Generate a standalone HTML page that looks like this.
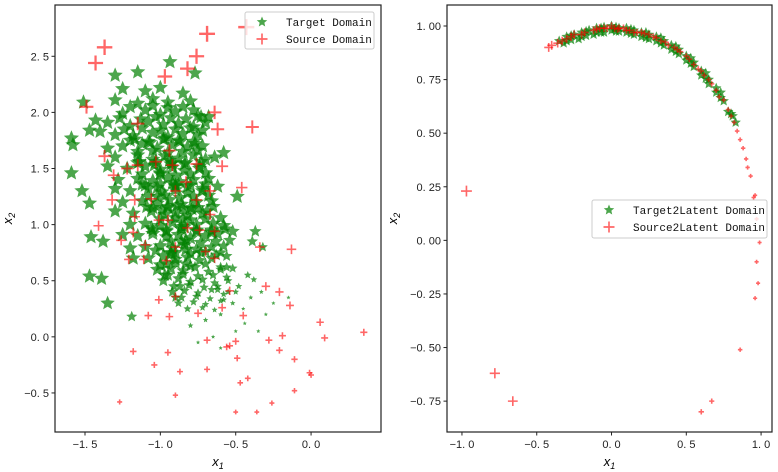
<!DOCTYPE html>
<html><head><meta charset="utf-8"><style>
html,body{margin:0;padding:0;background:#fff;}
svg{display:block;font-family:"Liberation Sans",sans-serif;}
.tick{font-size:11px;fill:#222;}
.leg{font-family:"Liberation Mono",monospace;font-size:11px;fill:#111;}
</style></head><body>
<svg id="chart" width="778" height="472" viewBox="0 0 778 472" xmlns="http://www.w3.org/2000/svg">
<g id="left"></g>
<g id="right"></g>
</svg>
<script>
// ---- left panel data ----
const targetX = [-1.25,-1.1,-1.0,-0.85,-0.936,-1.30,-1.15,-0.77,-1.51,-1.59,-1.58,-1.59,-1.43,-1.47,-0.78,-0.68,-0.58,-0.64,-0.49,-1.52,-1.47,-1.46,-1.38,-1.47,-1.39,-1.35,-0.37,-0.39,-0.52,-1.19,-0.38,-0.32,
 -1.3,-1.15,-1.05,-0.95,-0.8, -1.25,-1.1,-1.0,-0.9,-0.75, -1.35,-1.2,-1.08,-0.98,-0.88,-0.78,-0.7, -1.3,-1.18,-1.05,-0.95,-0.85,-0.75,-1.4,
 -1.25,-1.12,-1.02,-0.92,-0.82,-0.72,-1.35, -1.3,-1.15,-1.05,-0.97,-0.88,-0.78,-0.7, -1.22,-1.1,-1.0,-0.92,-0.84,-0.74,-1.35,
 -1.28,-1.15,-1.05,-0.95,-0.87,-0.78,-0.68, -1.2,-1.08,-0.99,-0.9,-0.82,-0.72,-1.3, -1.25,-1.12,-1.02,-0.94,-0.86,-0.76,-0.66,
 -1.18,-1.06,-0.97,-0.9,-0.82,-0.72,-1.3, -1.2,-1.1,-1.0,-0.92,-0.84,-0.76,-0.65,-0.58, -1.15,-1.05,-0.96,-0.88,-0.8,-0.7,-0.62,-1.25,
 -1.1,-1.0,-0.92,-0.84,-0.76,-0.66,-0.58,-1.2, -1.08,-0.98,-0.9,-0.82,-0.74,-0.66,-0.56,-1.18, -1.02,-0.93,-0.85,-0.77,-0.68,-0.6,-0.52,
 -0.98,-0.88,-0.8,-0.72,-0.64,-0.55, -0.92,-0.84,-0.75,-0.66,-0.58,-0.5, -0.88,-0.78,-0.7,-0.6,
 -1.0,-0.9,-0.95,-0.85,-1.05,-0.93,-0.83,-0.97,-0.87,-1.02,-0.92,-0.8,-0.9,-0.96,-0.86,
 -1.2,-1.05,-0.95,-0.85, -1.27,-1.13,-1.03,-0.93,-0.83,-0.73, -1.24,-1.12,-1.0,-0.9,-0.8,-0.72, -1.2,-1.08,-0.98,-0.88,-0.78, -1.15,-1.05,-0.95,-0.85,-0.75,
 -1.15,-1.03,-0.93,-0.83,-0.73, -1.12,-1.0,-0.9,-0.8,-0.7, -1.1,-1.0,-0.9,-0.8,-0.7,-0.62, -1.08,-0.97,-0.87,-0.78,-0.68, -1.05,-0.95,-0.85,-0.75,-0.65,
 -1.0,-0.9,-0.8,-0.7,-0.6, -0.96,-0.86,-0.76,-0.66,-0.57, -0.93,-0.83,-0.73,-0.63,-0.54, -0.9,-0.8,-0.7,-0.6,
 -1.17,-1.07,-0.97,-0.87,-0.77, -1.14,-1.04,-0.94,-0.84,-0.74, -1.12,-1.02,-0.92,-0.82,-0.72, -1.09,-0.99,-0.89,-0.79,-0.69, -1.06,-0.96,-0.86,-0.76,-0.66,
 -1.03,-0.93,-0.83,-0.73,-0.63, -1.0,-0.9,-0.8,-0.7,-0.6, -0.95,-0.85,-0.75,-0.65,-0.56, -0.91,-0.81,-0.71,-0.62, -0.86,-0.76,-0.67,-0.58, -0.82,-0.72,-0.64,
 -0.55,-0.45,-0.6,-0.7,-0.8,-0.5,-0.65,-0.4,-0.33,-0.75,-0.6,-0.25,-0.3,-0.15,-0.44,-0.52,-0.35,-0.48,-0.42,-0.62,-0.56];
const targetY = [2.21,2.19,2.22,2.17,2.45,2.33,2.36,2.35,2.09,1.77,1.71,1.46,1.93,1.84,2.02,1.96,1.64,1.60,1.25,1.30,1.19,0.89,0.85,0.54,0.52,0.30,0.94,0.85,0.94,0.18,0.51,0.80,
 2.11,2.08,2.12,2.09,2.10, 1.99,2.02,1.98,2.01,1.97, 1.91,1.88,1.92,1.89,1.90,1.87,1.91, 1.80,1.79,1.82,1.78,1.81,1.80,1.83,
 1.70,1.72,1.68,1.71,1.69,1.70,1.68, 1.60,1.62,1.58,1.61,1.59,1.62,1.58, 1.50,1.52,1.49,1.51,1.48,1.50,1.52,
 1.40,1.41,1.39,1.42,1.38,1.40,1.41, 1.30,1.32,1.29,1.31,1.28,1.30,1.32, 1.20,1.21,1.19,1.22,1.18,1.20,1.21,
 1.10,1.12,1.09,1.11,1.08,1.10,1.12, 1.00,1.01,0.99,1.02,0.98,1.00,1.01,0.99, 0.90,0.92,0.89,0.91,0.88,0.90,0.92,0.91,
 0.80,0.81,0.79,0.82,0.78,0.80,0.81,0.79, 0.70,0.72,0.69,0.71,0.68,0.70,0.72,0.70, 0.60,0.61,0.59,0.62,0.58,0.60,0.61,
 0.50,0.52,0.49,0.51,0.48,0.50, 0.40,0.41,0.39,0.42,0.38,0.40, 0.30,0.31,0.29,0.32,
 1.45,1.35,1.15,1.05,0.95,0.75,0.65,0.55,0.45,1.25,1.55,1.15,0.35,0.65,0.85,
 2.05,2.06,2.04,2.05, 1.95,1.94,1.96,1.95,1.94,1.96, 1.85,1.86,1.84,1.85,1.86,1.84, 1.75,1.74,1.76,1.75,1.74, 1.65,1.66,1.64,1.65,1.66,
 1.55,1.56,1.54,1.55,1.56, 1.45,1.46,1.44,1.45,1.46, 1.35,1.36,1.34,1.35,1.36,1.34, 1.25,1.26,1.24,1.25,1.26, 1.15,1.16,1.14,1.15,1.16,
 1.05,1.06,1.04,1.05,1.06, 0.95,0.96,0.94,0.95,0.96, 0.85,0.86,0.84,0.85,0.86, 0.75,0.74,0.76,0.75,
 1.76,1.73,1.77,1.74,1.72, 1.56,1.53,1.57,1.54,1.52, 1.36,1.33,1.37,1.34,1.32, 1.16,1.13,1.17,1.14,1.12, 0.97,0.94,0.98,0.95,0.93,
 0.77,0.74,0.78,0.75,0.73, 0.64,0.66,0.63,0.65,0.62, 0.55,0.56,0.54,0.55,0.53, 0.45,0.46,0.44,0.45, 0.35,0.36,0.34,0.33, 0.25,0.26,0.24,
 0.40,0.25,0.20,0.15,0.10,0.05,0.00,0.35,0.40,-0.05,-0.10,0.30,0.20,0.35,0.12,0.30,0.05,0.45,0.55,0.42,0.62];
const sourceX = [-1.37,-1.43,-0.69,-0.43,-0.76,-0.82,-0.97,-1.49,-0.64,-0.62,-0.39,-1.15,-0.94,-1.03,-1.15,-1.37,-1.31,-1.22,-0.92,-0.76,-0.59,-0.83,-0.46,-0.67,-0.90,-1.32,-1.17,-1.06,-0.76,
 -1.41,-1.17,-0.95,-1.01,-0.82,-0.74,-0.64,-0.67,-1.18,-1.26,-1.10,-0.90,-0.70,-0.64,-1.21,-1.11,-0.96,-0.34,-0.13,-0.30,-0.21,-0.14,-0.54,-0.59,-0.45,-0.75,-0.94,-1.08,-0.90,-1.01,
 0.06,0.35,0.09,-0.19,-0.28,-0.21,-0.11,-0.50,-0.69,-0.56,-0.54,-0.49,-1.18,-0.95,-1.04,-0.87,-0.69,-0.42,-0.47,0.00,-0.01,-0.11,-0.26,-0.90,-1.27,-0.50,-0.36];
const sourceY = [2.58,2.44,2.70,2.76,2.50,2.39,2.32,2.05,2.00,1.85,1.87,1.90,1.66,1.56,1.53,1.61,1.44,1.50,1.53,1.54,1.52,1.38,1.33,1.30,1.30,1.22,1.22,1.23,1.22,
 0.99,1.07,1.04,1.04,0.97,0.95,0.94,1.09,0.93,0.86,0.82,0.80,0.76,0.70,0.69,0.69,0.68,0.80,0.78,0.45,0.40,0.28,0.41,0.26,0.19,0.21,0.18,0.19,0.36,0.33,
 0.13,0.04,-0.01,0.01,-0.03,-0.12,-0.20,-0.04,-0.03,-0.09,-0.08,-0.19,-0.13,-0.14,-0.25,-0.31,-0.29,-0.37,-0.41,-0.34,-0.32,-0.48,-0.59,-0.52,-0.58,-0.67,-0.67];
const leftXTicks = [-1.5,-1.0,-0.5,0.0];
const leftXLabels = ["\u22121. 5","\u22121. 0","\u22120. 5","0. 0"];
const leftYTicks = [-0.5,0.0,0.5,1.0,1.5,2.0,2.5];
const leftYLabels = ["\u22120. 5","0. 0","0. 5","1. 0","1. 5","2. 0","2. 5"];
// ---- right panel data ----
const t2lX = [-0.35,-0.3,-0.25,-0.2,-0.15,-0.1,-0.05,0,0.05,0.1,0.15,0.2,0.25,0.3,0.35,0.4,0.45,0.5,0.55,0.6,0.65,0.7,0.75,0.8,0.83,
 -0.3,-0.2,-0.1,0,0.1,0.2,0.3,0.4,0.5,0.6,0.7,0.78, -0.05,0.05,0.15,0.25,0.35,0.45,0.55,0.65,-0.32,-0.22,-0.12,0.02,
 -0.27,-0.17,-0.07,0.03,0.13,0.23,0.33,0.43,0.53,0.63,0.73,0.81,-0.27,-0.17,-0.07,0.03,0.13,0.23,0.33,0.43,0.53,0.63,0.73];
const t2lY = [0.93,0.95,0.96,0.97,0.98,0.99,0.995,1.0,0.99,0.99,0.98,0.97,0.96,0.95,0.93,0.91,0.89,0.86,0.83,0.79,0.75,0.71,0.65,0.59,0.55,
 0.93,0.95,0.97,0.98,0.97,0.95,0.93,0.89,0.84,0.77,0.69,0.60, 0.97,0.975,0.96,0.94,0.91,0.87,0.81,0.73,0.92,0.94,0.96,0.985,
 0.955,0.975,0.99,0.995,0.985,0.97,0.945,0.905,0.85,0.78,0.69,0.58,0.935,0.955,0.97,0.975,0.965,0.945,0.92,0.88,0.825,0.755,0.665];
const s2lX = [-0.42,-0.40,-0.36,-0.33,-0.30,-0.27,-0.25,-0.2,-0.18,-0.12,-0.08,-0.05,0,0.02,0.05,0.08,0.12,0.15,0.2,0.25,0.28,0.33,0.38,0.42,0.46,0.5,0.55,0.6,0.62,0.67,0.72,0.78,0.8,0.82,0.84,0.86,0.88,0.9,0.91,0.93,0.95,0.96,0.97,0.99,0.97,0.98,0.96,0.86,0.67,0.6,-0.66,-0.78,-0.97,
 -0.1,-0.03,0.04,0.1,0.17,0.22,0.3,0.36,0.44,0.52,0.58,0.65,0.7,0.75];
const s2lY = [0.90,0.91,0.92,0.93,0.94,0.95,0.96,0.96,0.97,0.98,0.99,0.99,1.0,0.99,0.99,0.99,0.98,0.97,0.97,0.96,0.95,0.93,0.91,0.9,0.88,0.86,0.82,0.79,0.77,0.73,0.67,0.61,0.58,0.55,0.51,0.47,0.43,0.38,0.34,0.30,0.20,0.21,0.10,-0.01,-0.10,-0.20,-0.27,-0.51,-0.75,-0.80,-0.75,-0.62,0.23,
 0.985,0.99,0.985,0.98,0.97,0.965,0.945,0.925,0.89,0.845,0.8,0.75,0.7,0.655];
const rightXTicks = [-1.0,-0.5,0.0,0.5,1.0];
const rightXLabels = ["\u22121. 0","\u22120. 5","0. 0","0. 5","1. 0"];
const rightYTicks = [-0.75,-0.5,-0.25,0,0.25,0.5,0.75,1.0];
const rightYLabels = ["\u22120. 75","\u22120. 50","\u22120. 25","0. 00","0. 25","0. 50","0. 75","1. 00"];

const NS="http://www.w3.org/2000/svg";
function mk(tag,attrs,parent){const e=document.createElementNS(NS,tag);for(const k in attrs)e.setAttribute(k,attrs[k]);parent.appendChild(e);return e;}
function starPts(cx,cy,r){let p=[];for(let i=0;i<10;i++){const a=-Math.PI/2+i*Math.PI/5;const rr=i%2?r*0.45:r;p.push((cx+rr*Math.cos(a)).toFixed(2)+","+(cy+rr*Math.sin(a)).toFixed(2));}return p.join(" ");}
function drawStar(g,cx,cy,r){const s=mk('polygon',{points:starPts(cx,cy,r),fill:'green','fill-opacity':0.7},g);

}
function drawPlus(g,cx,cy,r){const p=mk('path',{d:`M${cx-r},${cy}H${cx+r}M${cx},${cy-r}V${cy+r}`,stroke:'red','stroke-opacity':0.6,'stroke-width':Math.max(1.6,r*0.3)},g);

}

function panel(g,box,xr,yr,xt,xl,yt,yl,ylw){
  const sx=v=>box.l+(v-xr[0])/(xr[1]-xr[0])*(box.r-box.l);
  const sy=v=>box.b-(v-yr[0])/(yr[1]-yr[0])*(box.b-box.t);
  const ax=mk('g',{},g);
  
  
  xt.forEach((v,i)=>{const x=sx(v);mk('line',{x1:x,x2:x,y1:box.b,y2:box.b+3.5,stroke:'#222'},ax);
    const t=mk('text',{x:x,y:box.b+16,'text-anchor':'middle',class:'tick'},ax);t.textContent=xl[i];
    
    });
  const ay=mk('g',{},g);
  
  
  yt.forEach((v,i)=>{const y=sy(v);mk('line',{x1:box.l-3.5,x2:box.l,y1:y,y2:y,stroke:'#222'},ay);
    const t=mk('text',{x:box.l-6,y:y+4,'text-anchor':'end',class:'tick'},ay);t.textContent=yl[i];
    
    });
  const xlab=mk('text',{x:(box.l+box.r)/2,y:466,'text-anchor':'middle','font-size':'13px','font-style':'italic'},g);
  xlab.innerHTML='x<tspan font-size="9" dy="3">1</tspan>';
  
  
  const ylab=mk('text',{transform:`translate(${ylw},${(box.t+box.b)/2}) rotate(-90)`,'text-anchor':'middle','font-size':'13px','font-style':'italic'},g);
  ylab.innerHTML='x<tspan font-size="9" dy="3">2</tspan>';
  
  
  return {sx,sy};
}

// left
const L=document.getElementById('left');
const lb={l:55,r:381,t:5,b:432};
const ls=panel(L,lb,[-1.699,0.464],[-0.848,2.957],leftXTicks,leftXLabels,leftYTicks,leftYLabels,12);
const lpts=mk('g',{},L);


targetX.forEach((x,i)=>{const y=targetY[i];const v=y-0.8*x;const r=Math.min(8,Math.max(2.2,(v-0.3)*7));drawStar(lpts,ls.sx(x),ls.sy(y),r);});
const lsp=mk('g',{},L);


sourceX.forEach((x,i)=>{const y=sourceY[i];const r=Math.max(1.8,(5+(y+0.6)*3.3)/2);drawPlus(lsp,ls.sx(x),ls.sy(y),r);});
mk('rect',{x:lb.l,y:lb.t,width:lb.r-lb.l,height:lb.b-lb.t,fill:'none',stroke:'#222','stroke-width':1.2},L);

// right
const R=document.getElementById('right');
const rb={l:447,r:772,t:5,b:432};
const rs=panel(R,rb,[-1.1,1.073],[-0.894,1.098],rightXTicks,rightXLabels,rightYTicks,rightYLabels,397);
const rpts=mk('g',{},R);


t2lX.forEach((x,i)=>drawStar(rpts,rs.sx(x),rs.sy(t2lY[i]),5.5));
const rsp=mk('g',{},R);


s2lX.forEach((x,i)=>{const r=(4+(1-x)*3.5)/2;drawPlus(rsp,rs.sx(x),rs.sy(s2lY[i]),r);});
mk('rect',{x:rb.l,y:rb.t,width:rb.r-rb.l,height:rb.b-rb.t,fill:'none',stroke:'#222','stroke-width':1.2},R);

// legends
function legend(g,x,y,w,h,labels){
  const lg=mk('g',{},g);
  
  
  mk('rect',{x:x,y:y,width:w,height:h,rx:2,fill:'#fff','fill-opacity':0.8,stroke:'#ccc'},lg);
  drawStar(lg,x+17,y+10,5.5);
  drawPlus(lg,x+17,y+27,5.5);
  labels.forEach((s,i)=>{const t=mk('text',{x:x+41,y:y+14+i*17,class:'leg'},lg);t.textContent=s;
    
    });
}
legend(L,245,12,129,37,["Target Domain","Source Domain"]);
legend(R,592,200,175,38,["Target2Latent Domain","Source2Latent Domain"]);
</script>
</body></html>
